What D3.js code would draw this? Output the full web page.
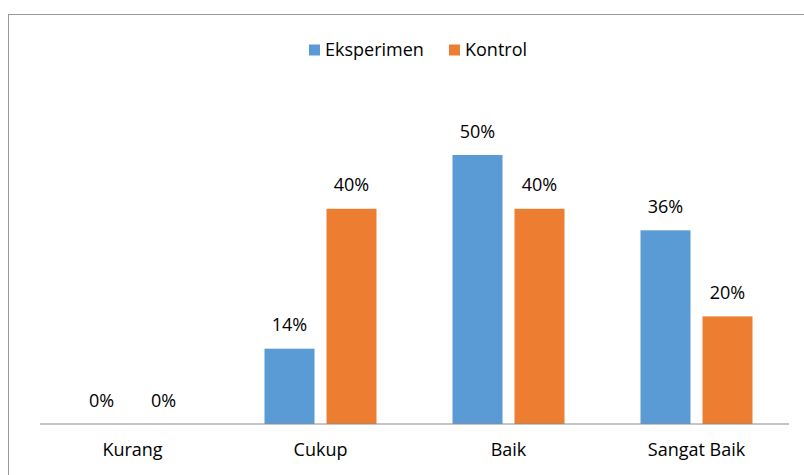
<!DOCTYPE html>
<html>
<head>
<meta charset="utf-8">
<script src="https://cdn.jsdelivr.net/npm/d3@7"></script>
<style>
  body { margin: 0; background: #fff; }
  #chart { width: 804px; height: 475px; }
  text { font-family: "Open Sans", "Noto Sans", sans-serif; fill: #000; }
</style>
</head>
<body>
<div id="chart"></div>
<script>
// data
const categories = ['Kurang', 'Cukup', 'Baik', 'Sangat Baik'];
const seriesNames = ['Eksperimen', 'Kontrol'];
const eksperimen = [0, 14, 50, 36];
const kontrol = [0, 40, 40, 20];
const colors = ['#5B9BD5', '#ED7D31'];

(function () {
  const width = 804, height = 475;
  const svg = d3.select('#chart').append('svg')
    .attr('width', width)
    .attr('height', height);

  // chart frame
  svg.append('rect')
    .attr('x', 8.5).attr('y', 14.5)
    .attr('width', 820).attr('height', 480)
    .attr('fill', 'none')
    .attr('stroke', '#9a9a9a')
    .attr('stroke-width', 1);

  const baseY = 424;
  const x = d3.scaleBand().domain(categories).range([38.5, 790.5]);
  // two bars of 50px with a 12px gap inside each 188px band
  const inner = d3.scaleBand().domain(seriesNames).range([38, 150]).paddingInner(12 / 62);
  const y = d3.scaleLinear().domain([0, 60]).range([baseY, baseY - 322.8]);

  const rows = categories.map((c, i) => ({ cat: c, vals: [eksperimen[i], kontrol[i]] }));

  const groups = svg.append('g')
    .selectAll('g')
    .data(rows)
    .join('g')
    .attr('transform', d => `translate(${x(d.cat)},0)`);

  groups.selectAll('rect')
    .data(d => d.vals.map((v, j) => ({ name: seriesNames[j], v, j })))
    .join('rect')
    .attr('x', d => inner(d.name))
    .attr('width', inner.bandwidth())
    .attr('y', d => y(d.v))
    .attr('height', d => baseY - y(d.v))
    .attr('fill', d => colors[d.j]);

  groups.selectAll('text')
    .data(d => d.vals.map((v, j) => ({ name: seriesNames[j], v, j })))
    .join('text')
    .attr('x', d => inner(d.name) + inner.bandwidth() / 2)
    .attr('y', d => y(d.v) - 17.5)
    .attr('text-anchor', 'middle')
    .style('font-size', '18px')
    .text(d => d.v + '%');

  // x axis
  const axis = svg.append('g')
    .attr('transform', `translate(0,${baseY})`)
    .call(d3.axisBottom(x).tickSize(0).tickPadding(19.5));
  axis.select('.domain').attr('stroke', '#8c8c8c').attr('stroke-width', 1.2)
    .attr('d', 'M40,0H789');
  axis.selectAll('.tick text')
    .style('font-size', '18px')
    .style('font-family', '"Open Sans", "Noto Sans", sans-serif')
    .attr('fill', '#000');

  // legend
  const legendX = [309, 449];
  const legend = svg.append('g')
    .selectAll('g')
    .data(seriesNames)
    .join('g')
    .attr('transform', (d, i) => `translate(${legendX[i]},44.5)`);
  legend.append('rect')
    .attr('width', 11).attr('height', 11)
    .attr('fill', (d, i) => colors[i]);
  legend.append('text')
    .attr('x', 16).attr('y', 11)
    .style('font-size', '18px')
    .text(d => d);
})();
</script>
</body>
</html>
